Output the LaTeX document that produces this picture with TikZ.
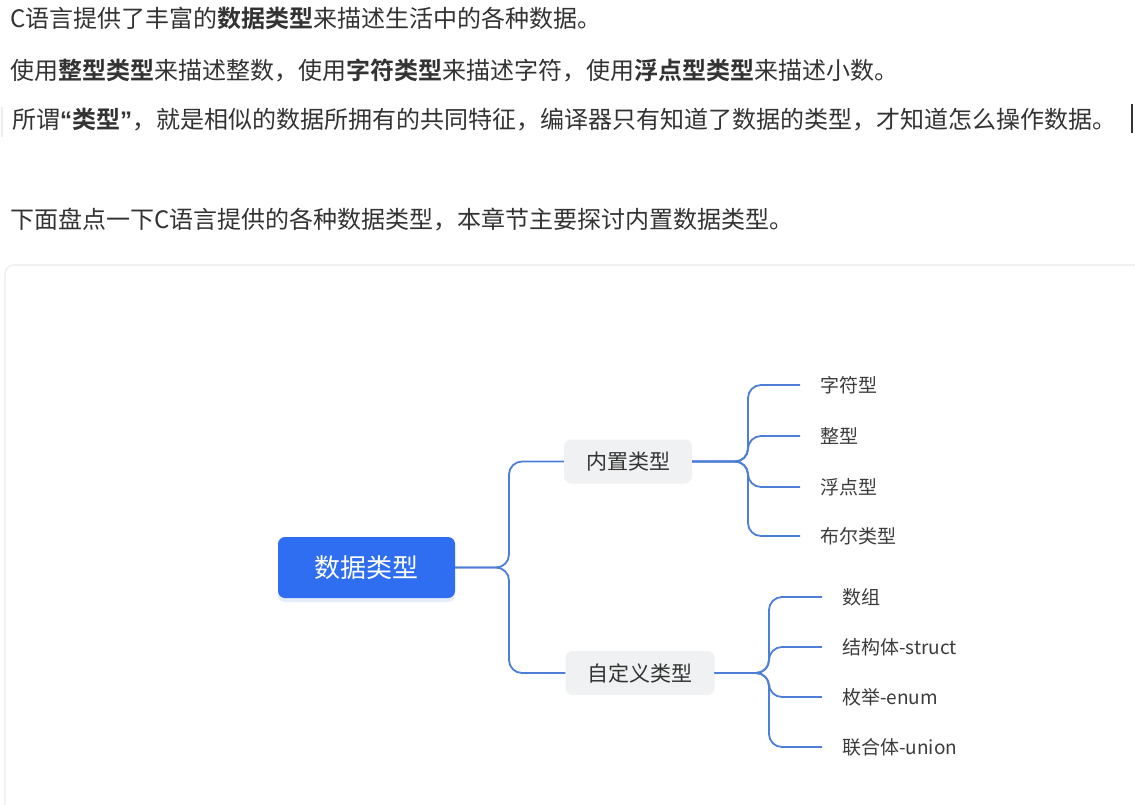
\documentclass[tikz,border=0pt]{standalone}
\usepackage{fontspec}
\setmainfont{Noto Sans CJK SC}[BoldFont={Noto Sans CJK SC Bold}]
\newfontfamily\qf{Liberation Sans}
\usetikzlibrary{shadows}
\definecolor{txt}{HTML}{333333}
\definecolor{leaftxt}{HTML}{3C3C3C}
\definecolor{rootblue}{HTML}{2F6EF0}
\definecolor{linkblue}{HTML}{4D7ED8}
\definecolor{boxgray}{HTML}{F0F1F2}
\definecolor{cardline}{HTML}{ECECEC}
\tikzset{
  para/.style={anchor=west, inner sep=0pt, text=txt, font=\fontsize{24}{28}\selectfont},
  rootbox/.style={fill=rootblue, rounded corners=7pt, text=white, minimum width=177pt, minimum height=61pt,
     font=\fontsize{26}{30}\selectfont, drop shadow={shadow xshift=0pt, shadow yshift=-4pt, fill=rootblue!35, opacity=0.35}},
  midbox/.style={fill=boxgray, rounded corners=7pt, text=txt, minimum height=44pt, inner xsep=22pt,
     font=\fontsize{21}{25}\selectfont},
  leaf/.style={anchor=west, inner xsep=20pt, inner ysep=2pt, text=leaftxt, font=\fontsize{19}{23}\selectfont},
  link/.style={draw=linkblue, line width=1.8pt, rounded corners=13pt},
}
\begin{document}
\begin{tikzpicture}[x=1pt,y=-1pt]
\useasboundingbox (0,0) rectangle (1135,804);
\fill[white] (0,0) rectangle (1135,804);
% paragraphs
\node[para] (l1) at (10,18) {C语言提供了丰富的\textbf{数据类型}来描述生活中的各种数据。};
\node[para] (l2) at (10,70) {使用\textbf{整型类型}来描述整数，使用\textbf{字符类型}来描述字符，使用\textbf{浮点型类型}来描述小数。};
\node[para] (l3) at (12,120) {所谓\textbf{{\qf “}类型{\qf ”}}，就是相似的数据所拥有的共同特征，编译器只有知道了数据的类型，才知道怎么操作数据。};
\node[para] (l4) at (10,220) {下面盘点一下C语言提供的各种数据类型，本章节主要探讨内置数据类型。};
\draw[cardline, line width=1.2pt] (2,107) -- (2,137);
\draw[txt, line width=1.6pt] (1132,104) -- (1132,133);
% card
\draw[cardline, line width=1.2pt, rounded corners=9pt] (5,830) -- (5,265) -- (1160,265);
% mind map
\node[rootbox] (root) at (366.5,567.5) {数据类型};
\node[midbox] (b1) at (628,461.5) {内置类型};
\node[midbox] (b2) at (640,673) {自定义类型};
\node[leaf] (c1) at (800,385) {字符型};
\node[leaf] (c2) at (800,436) {整型};
\node[leaf] (c3) at (800,487) {浮点型};
\node[leaf] (c4) at (800,536) {布尔类型};
\node[leaf] (d1) at (822,597) {数组};
\node[leaf] (d2) at (822,647) {结构体-struct};
\node[leaf] (d3) at (822,697) {枚举-enum};
\node[leaf] (d4) at (822,747) {联合体-union};
\foreach \c in {b1,b2}
  \draw[link] (root.east) -- (509,567.5) |- (\c.west);
\foreach \c in {c1,c2,c3,c4}
  \draw[link] (b1.east) -- (748,461.5) |- (\c.west);
\foreach \c in {d1,d2,d3,d4}
  \draw[link] (b2.east) -- (769,673) |- (\c.west);
\end{tikzpicture}
\end{document}
